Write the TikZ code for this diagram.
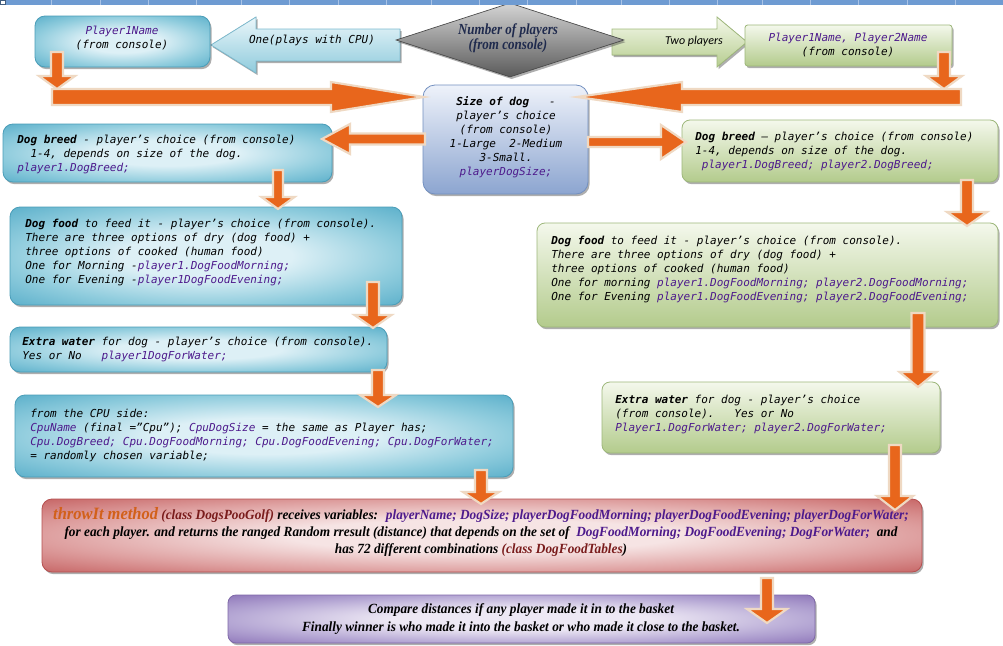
\documentclass[tikz,border=0pt]{standalone}
\usepackage{fontspec}
\setmainfont{Liberation Serif}
\newfontfamily\cmono{DejaVu Sans Mono}
\newfontfamily\cserif[FakeStretch=0.85]{Liberation Serif}
\newfontfamily\wserif[FakeStretch=0.95]{Liberation Serif}
\newfontfamily\csans{Carlito}
\usetikzlibrary{shapes.geometric,shadows,calc}
\definecolor{barblue}{HTML}{6E9BD2}
\definecolor{barline}{HTML}{A9C3E6}
\definecolor{vpurple}{HTML}{4D1A8C}
\definecolor{arrowor}{HTML}{E8661C}
\definecolor{arrowedge}{HTML}{EFD9C3}
\definecolor{cyanD}{HTML}{5AAFCA}
\definecolor{cyanM}{HTML}{8FCCDD}
\definecolor{cyanL}{HTML}{DDF0F6}
\definecolor{cyanB}{HTML}{4A9DB8}
\definecolor{grnL}{HTML}{F4F8EC}
\definecolor{grnD}{HTML}{B3CB8C}
\definecolor{grnB}{HTML}{9DB77A}
\definecolor{sizeL}{HTML}{EEF2FA}
\definecolor{sizeD}{HTML}{8CA5D0}
\definecolor{sizeB}{HTML}{7390C0}
\definecolor{redL}{HTML}{F6E4E4}
\definecolor{redM}{HTML}{DE9F9F}
\definecolor{redD}{HTML}{C66464}
\definecolor{redB}{HTML}{B55050}
\definecolor{purL}{HTML}{EDE8F4}
\definecolor{purM}{HTML}{B5A7D4}
\definecolor{purD}{HTML}{8E76B9}
\definecolor{purB}{HTML}{7F68A8}
\definecolor{grayL}{HTML}{D4D4D4}
\definecolor{grayD}{HTML}{5A5A5A}
\definecolor{navy}{HTML}{1F2A4D}
\definecolor{methodor}{HTML}{D2601A}
\definecolor{maroon}{HTML}{7A1C1C}
\definecolor{oneL}{HTML}{EAF6FA}
\definecolor{oneD}{HTML}{8FCBDC}
\definecolor{oneB}{HTML}{7FBCD0}
\definecolor{twoL}{HTML}{F4F8EA}
\definecolor{twoD}{HTML}{B6CD8F}
\definecolor{twoB}{HTML}{A2BB7E}
\pgfdeclareradialshading{cyshade}{\pgfpoint{0bp}{0bp}}{color(0bp)=(cyanL); color(11bp)=(cyanL); color(25bp)=(cyanM); color(36bp)=(cyanD); color(50bp)=(cyanD)}
\pgfdeclareradialshading{redshade}{\pgfpoint{0bp}{0bp}}{color(0bp)=(redL); color(11bp)=(redL); color(25bp)=(redM); color(36bp)=(redD); color(50bp)=(redD)}
\pgfdeclareradialshading{purshade}{\pgfpoint{0bp}{0bp}}{color(0bp)=(purL); color(11bp)=(purL); color(25bp)=(purM); color(36bp)=(purD); color(50bp)=(purD)}
\newcommand\vv[1]{\textcolor{vpurple}{#1}}
\newcommand\mybox[6]{%
  \pgfmathsetlengthmacro\bw{(#4-#2)*0.75pt}%
  \pgfmathsetlengthmacro\bh{(#5-#3)*0.75pt}%
  \node[#6,minimum width=\bw,minimum height=\bh,inner sep=0pt] (#1) at ({(#2+#4)/2},{(#3+#5)/2}) {};}
\newcommand\oarr[5]{%
  \coordinate (oaB) at ($(#2)!#5*0.75pt!(#1)$);
  \filldraw[oarrow] ($(#1)!#3*0.75pt!90:(#2)$) -- ($(oaB)!#3*0.75pt!90:(#2)$) -- ($(oaB)!#4*0.75pt!90:(#2)$) -- (#2) -- ($(oaB)!#4*0.75pt!-90:(#2)$) -- ($(oaB)!#3*0.75pt!-90:(#2)$) -- ($(#1)!#3*0.75pt!-90:(#2)$) -- cycle;}
\begin{document}
\begin{tikzpicture}[x=0.75pt,y=-0.75pt,
  shad/.style={drop shadow={shadow xshift=1.2pt,shadow yshift=-1.6pt,opacity=0.45,fill=black!70}},
  cybox/.style={shad,draw=cyanB,line width=0.6pt,shading=cyshade,rounded corners=7.5pt},
  grbox/.style={shad,draw=grnB,line width=0.6pt,top color=grnL,bottom color=grnD,rounded corners=6pt},
  sizebox/.style={shad,draw=sizeB,line width=0.6pt,top color=sizeL,bottom color=sizeD,rounded corners=9pt},
  redbox/.style={shad,draw=redB,line width=0.6pt,shading=redshade,rounded corners=7.5pt},
  purbox/.style={shad,draw=purB,line width=0.6pt,shading=purshade,rounded corners=6pt},
  mtext/.style={font=\cmono\itshape\fontsize{8.25}{10.5}\selectfont,inner sep=0pt,align=left,anchor=north west},
  ctext/.style={font=\cmono\itshape\fontsize{8.25}{10.5}\selectfont,inner sep=0pt,align=center},
  oarrow/.style={fill=arrowor,draw=arrowedge,line width=1.6pt,line join=miter},
]
\useasboundingbox (0,0) rectangle (1003,646);
\fill[white] (0,0) rectangle (1003,646);

% block arrows of the choice
\filldraw[shad,draw=oneB,top color=oneL,bottom color=oneD,line width=0.6pt] (211,45) -- (256,17) -- (256,29) -- (400,29) -- (400,61) -- (256,61) -- (256,73) -- cycle;
\filldraw[shad,draw=twoB,top color=twoL,bottom color=twoD,line width=0.6pt] (612,29) -- (717,29) -- (717,17) -- (747,42) -- (717,67) -- (717,55) -- (612,55) -- cycle;

% boxes
\mybox{p1}{35}{16}{210}{67}{cybox}
\mybox{p2}{745}{25}{952}{66}{grbox,rounded corners=2pt}
\node[diamond,minimum width=171pt,minimum height=55.5pt,inner sep=0pt,top color=grayL,bottom color=grayD,draw=grayD!80!black,line width=0.5pt,shad] (np) at (510,40) {};
\mybox{size}{423}{85}{588}{194}{sizebox}
\mybox{breedL}{3}{124}{332}{182}{cybox}
\mybox{breedR}{682}{120}{998}{182}{grbox}
\mybox{foodL}{10}{207}{402}{305}{cybox}
\mybox{foodR}{537}{223}{998}{327}{grbox}
\mybox{waterL}{10}{327}{387}{372}{cybox}
\mybox{cpu}{15}{395}{513}{477}{cybox}
\mybox{waterR}{602}{382}{940}{453}{grbox}
\mybox{throw}{42}{499}{922}{572}{redbox}
\mybox{cmp}{228}{595}{815}{643}{purbox}

% orange connectors
\coordinate (a1s) at (57,52);   \coordinate (a1e) at (57,89);
\coordinate (a2s) at (52,97);   \coordinate (a2e) at (424,97);
\coordinate (a3s) at (944,52);  \coordinate (a3e) at (944,89);
\coordinate (a4s) at (961,97);  \coordinate (a4e) at (577,97);
\coordinate (a5s) at (425,139); \coordinate (a5e) at (322,139);
\coordinate (a6s) at (588,142); \coordinate (a6e) at (686,142);
\coordinate (a7s) at (278,170); \coordinate (a7e) at (278,209);
\coordinate (a8s) at (967,180); \coordinate (a8e) at (967,226);
\coordinate (a9s) at (373,282); \coordinate (a9e) at (373,328);
\coordinate (a10s) at (378,370); \coordinate (a10e) at (378,407);
\coordinate (a11s) at (481,470); \coordinate (a11e) at (481,504);
\coordinate (a12s) at (918,313); \coordinate (a12e) at (918,387);
\coordinate (a13s) at (895,445); \coordinate (a13e) at (895,510);
\coordinate (a14s) at (767,578); \coordinate (a14e) at (767,623);
\oarr{a1s}{a1e}{6}{18}{13}
\oarr{a2s}{a2e}{8}{15}{93}
\oarr{a3s}{a3e}{6}{18}{13}
\oarr{a4s}{a4e}{8}{15}{105}
\oarr{a5s}{a5e}{5.5}{15}{28}
\oarr{a6s}{a6e}{5}{17}{25}
\oarr{a7s}{a7e}{5}{16.5}{12}
\oarr{a8s}{a8e}{6}{20}{14}
\oarr{a9s}{a9e}{6}{18.5}{13}
\oarr{a10s}{a10e}{6}{18}{12}
\oarr{a11s}{a11e}{6}{18}{12}
\oarr{a12s}{a12e}{6.5}{18.5}{15}
\oarr{a13s}{a13e}{6}{18}{14}
\oarr{a14s}{a14e}{6}{20}{14}

% texts
\node[ctext] (t_p1) at (122,38) {\vv{Player1Name}\\(from console)};
\node[ctext] (t_one) at (312,40) {One(plays with CPU)};
\node[inner sep=0pt,align=center,text=navy,font=\cserif\bfseries\itshape\fontsize{11.5}{11.25}\selectfont] (t_np) at (508,38) {Number of players\\(from console)};
\node[inner sep=0pt,font=\csans\itshape\fontsize{9}{11}\selectfont] (t_two) at (694,41) {Two players};
\node[ctext] (t_p2) at (848,45) {\vv{Player1Name, Player2Name}\\(from console)};
\node[ctext] (t_size) at (506,137) {\textbf{Size of dog}~~~-\\player’s choice\\(from console)\\1-Large~~2-Medium\\3-Small.\\\vv{playerDogSize;}};
\node[mtext] (t_breedL) at (17,135) {\textbf{Dog breed} - player’s choice (from console)\\\phantom{xx}1-4, depends on size of the dog.\\\vv{player1.DogBreed;}};
\node[mtext] (t_foodL) at (25,219) {\textbf{Dog food} to feed it - player’s choice (from console).\\There are three options of dry (dog food) +\\three options of cooked (human food)\\One for Morning -\vv{player1.DogFoodMorning;}\\One for Evening -\vv{player1DogFoodEvening;}};
\node[mtext] (t_breedR) at (695,132) {\textbf{Dog breed} – player’s choice (from console)\\1-4, depends on size of the dog.\\\phantom{x}\vv{player1.DogBreed; player2.DogBreed;}};
\node[mtext] (t_foodR) at (551,236) {\textbf{Dog food} to feed it - player’s choice (from console).\\There are three options of dry (dog food) +\\three options of cooked (human food)\\One for morning \vv{player1.DogFoodMorning; player2.DogFoodMorning;}\\One for Evening \vv{player1.DogFoodEvening; player2.DogFoodEvening;}};
\node[mtext] (t_waterL) at (22,337) {\textbf{Extra water} for dog - player’s choice (from console).\\Yes or No~~~\vv{player1DogForWater;}};
\node[mtext] (t_cpu) at (30,409) {from the CPU side:\\\vv{CpuName} (final =”Cpu”); \vv{CpuDogSize} = the same as Player has;\\\vv{Cpu.DogBreed; Cpu.DogFoodMorning; Cpu.DogFoodEvening; Cpu.DogForWater;}\\= randomly chosen variable;};
\node[mtext] (t_waterR) at (615,395) {\textbf{Extra water} for dog - player’s choice\\(from console).~~~Yes or No\\\vv{Player1.DogForWater; player2.DogForWater;}};
\node[inner sep=0pt,align=center,font=\wserif\bfseries\itshape\fontsize{10.5}{12.4}\selectfont] (t_throw) at (481,532) {\textcolor{methodor}{\fontsize{13}{12.4}\selectfont throwIt method} \textcolor{maroon}{(class DogsPooGolf)} receives variables:~ \vv{playerName; DogSize; playerDogFoodMorning; playerDogFoodEvening; playerDogForWater;}\\for each player. and returns the ranged Random rresult (distance) that depends on the set of~ \vv{DogFoodMorning; DogFoodEvening; DogForWater;}~ and\\has 72 different combinations \textcolor{maroon}{(class DogFoodTables})};
\node[inner sep=0pt,align=center,font=\wserif\bfseries\itshape\fontsize{10.5}{13.5}\selectfont] (t_cmp) at (521,619) {Compare distances if any player made it in to the basket\\Finally winner is who made it into the basket or who made it close to the basket.};

% top ruler bar
\fill[barblue] (0,0) rectangle (1003,4.5);
\foreach \x in {51,100,148,196,241,289,338,386,431,479,527,576,621,669,717,762,810,858,907,955}
  \draw[barline,line width=0.6pt] (\x,0) -- (\x,4.5);
\filldraw[fill=white,draw=barblue!60!black,line width=0.4pt] (0.5,0.5) rectangle (5,4);
\end{tikzpicture}
\end{document}
